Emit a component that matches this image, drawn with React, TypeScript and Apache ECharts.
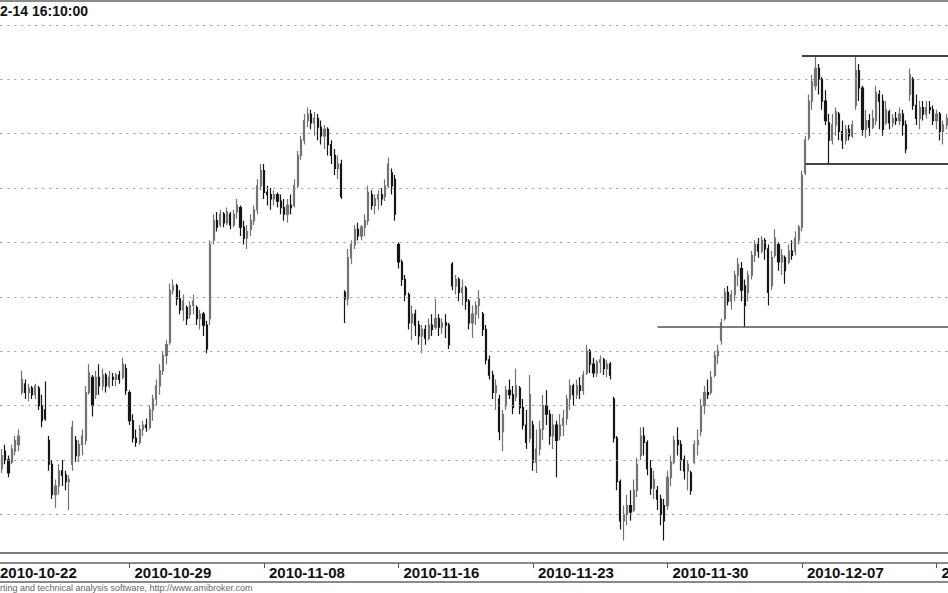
import React, { useEffect, useRef } from "react";
import * as echarts from "echarts";

// Trading days shown (hourly bars, 09:00 .. 16:00)
const days = [
  "2010-10-22", "2010-10-25", "2010-10-26", "2010-10-27", "2010-10-28",
  "2010-10-29", "2010-11-02", "2010-11-03", "2010-11-04", "2010-11-05",
  "2010-11-08", "2010-11-09", "2010-11-10", "2010-11-12", "2010-11-15",
  "2010-11-16", "2010-11-17", "2010-11-18", "2010-11-19", "2010-11-22",
  "2010-11-23", "2010-11-24", "2010-11-25", "2010-11-26", "2010-11-29",
  "2010-11-30", "2010-12-01", "2010-12-02", "2010-12-03", "2010-12-06",
  "2010-12-07", "2010-12-08", "2010-12-09", "2010-12-10", "2010-12-13",
  "2010-12-14",
];
const hours = ["09:00", "10:00", "11:00", "12:00", "13:00", "14:00", "15:00", "16:00"];

// [open, close, low, high]
const week1 = [
  [2580,2575,2573,2582],[2579,2573,2570,2580],[2571,2577,2569,2580],[2579,2575,2573,2582],[2575,2569,2567,2577],[2574,2580,2573,2582],[2579,2584,2577,2586],[2582,2586,2579,2589],
  [2606,2612,2605,2616],[2610,2606,2603,2612],[2606,2608,2602,2610],[2608,2605,2603,2609],[2605,2609,2603,2610],[2608,2600,2598,2609],[2600,2593,2590,2605],[2598,2594,2593,2611],
  [2584,2573,2570,2586],[2573,2559,2557,2575],[2559,2563,2553,2566],[2563,2570,2559,2573],[2570,2568,2563,2575],[2568,2565,2561,2570],[2565,2566,2552,2568],[2573,2590,2570,2593],
  [2584,2577,2574,2586],[2577,2582,2574,2584],[2582,2586,2577,2589],[2584,2606,2582,2609],[2606,2615,2605,2619],[2613,2600,2595,2614],[2605,2613,2603,2616],[2613,2609,2605,2619],
  [2609,2614,2607,2617],[2614,2609,2606,2615],[2609,2613,2608,2616],[2613,2612,2609,2615],[2612,2614,2609,2615],[2614,2612,2610,2616],[2613,2619,2612,2622],[2617,2607,2605,2619],
];
const week2 = [
  [2606,2593,2591,2607],[2593,2585,2583,2596],[2585,2583,2581,2589],[2583,2589,2582,2591],[2589,2591,2586,2593],[2591,2590,2588,2594],[2590,2598,2589,2600],[2598,2603,2593,2605],
  [2603,2609,2600,2612],[2609,2616,2605,2619],[2616,2623,2614,2625],[2623,2628,2619,2630],[2629,2653,2628,2656],[2653,2655,2651,2658],[2655,2649,2646,2656],[2649,2644,2642,2653],
  [2644,2648,2639,2651],[2645,2640,2637,2646],[2642,2646,2640,2648],[2646,2648,2642,2651],[2645,2640,2637,2646],[2640,2642,2635,2644],[2642,2637,2632,2643],[2637,2626,2624,2639],
  [2640,2674,2637,2676],[2676,2685,2674,2688],[2685,2682,2680,2689],[2683,2688,2682,2690],[2688,2684,2682,2689],[2684,2689,2683,2691],[2688,2683,2681,2689],[2683,2688,2682,2690],
  [2689,2692,2686,2695],[2691,2682,2678,2692],[2682,2677,2674,2685],[2677,2680,2672,2683],[2681,2685,2678,2688],[2685,2690,2683,2692],[2690,2701,2688,2704],[2701,2708,2699,2711],
];
const week3 = [
  [2708,2698,2695,2711],[2698,2697,2692,2701],[2697,2695,2690,2700],[2695,2697,2692,2699],[2697,2694,2691,2698],[2694,2691,2688,2697],[2691,2688,2685,2695],[2688,2692,2684,2695],
  [2692,2691,2688,2697],[2692,2701,2691,2704],[2701,2715,2700,2717],[2715,2722,2713,2724],[2722,2731,2720,2734],[2731,2734,2728,2737],[2734,2730,2727,2736],[2730,2732,2724,2735],
  [2732,2728,2722,2734],[2728,2724,2720,2731],[2724,2727,2718,2729],[2727,2720,2715,2728],[2720,2715,2711,2722],[2715,2709,2706,2718],[2709,2711,2704,2715],[2711,2696,2695,2713],
  [2652,2649,2638,2653],[2649,2668,2646,2672],[2668,2674,2665,2676],[2674,2681,2672,2683],[2681,2678,2676,2684],[2678,2682,2676,2683],[2682,2685,2678,2688],[2685,2698,2683,2701],
  [2697,2692,2690,2699],[2692,2695,2688,2697],[2695,2697,2690,2699],[2697,2695,2692,2700],[2696,2701,2694,2704],[2701,2711,2700,2714],[2707,2701,2697,2709],[2704,2688,2685,2706],
];
const week4 = [
  [2674,2666,2663,2675],[2666,2658,2655,2667],[2658,2651,2648,2660],[2651,2638,2635,2652],[2638,2642,2630,2646],[2642,2637,2632,2644],[2637,2632,2628,2639],[2632,2635,2624,2637],
  [2635,2631,2628,2637],[2631,2637,2630,2640],[2637,2635,2632,2642],[2636,2640,2635,2649],[2640,2636,2632,2642],[2636,2638,2633,2640],[2638,2637,2631,2642],[2637,2628,2626,2638],
  [2665,2655,2653,2666],[2655,2658,2651,2660],[2658,2652,2648,2659],[2652,2654,2646,2658],[2654,2648,2644,2655],[2648,2638,2635,2649],[2638,2642,2631,2646],[2642,2646,2637,2648],
  [2646,2649,2640,2653],[2642,2635,2632,2643],[2635,2621,2619,2637],[2621,2614,2612,2623],[2614,2606,2603,2616],[2606,2609,2598,2612],[2603,2588,2584,2605],[2588,2596,2579,2598],
  [2600,2607,2598,2609],[2607,2605,2603,2612],[2605,2599,2596,2609],[2604,2609,2602,2617],[2608,2599,2596,2609],[2599,2591,2589,2603],[2591,2583,2580,2598],[2585,2605,2583,2614],
];
const week5 = [
  [2591,2574,2570,2593],[2574,2580,2569,2589],[2580,2589,2577,2593],[2589,2600,2584,2605],[2600,2596,2591,2607],[2596,2586,2582,2598],[2586,2591,2580,2596],[2591,2584,2567,2593],
  [2586,2591,2584,2596],[2591,2594,2586,2598],[2594,2603,2591,2605],[2603,2609,2598,2612],[2609,2605,2600,2610],[2605,2609,2603,2612],[2609,2607,2603,2613],[2607,2614,2605,2616],
  [2615,2625,2614,2628],[2625,2619,2615,2626],[2619,2615,2613,2622],[2615,2620,2613,2621],[2620,2621,2615,2623],[2621,2617,2614,2622],[2617,2619,2613,2621],[2619,2614,2612,2620],
  [2603,2585,2583,2604],[2585,2565,2561,2586],[2565,2547,2543,2566],[2547,2550,2538,2554],[2550,2554,2545,2559],[2554,2551,2547,2561],[2552,2561,2551,2566],[2561,2573,2558,2576],
  [2577,2586,2575,2590],[2586,2583,2577,2590],[2583,2571,2568,2584],[2571,2562,2559,2575],[2562,2566,2557,2570],[2561,2557,2552,2563],[2557,2550,2545,2559],[2554,2547,2538,2557],
];
const week6 = [
  [2554,2567,2552,2570],[2567,2574,2563,2577],[2574,2584,2573,2586],[2584,2582,2577,2590],[2582,2575,2570,2584],[2575,2570,2566,2577],[2570,2573,2561,2575],[2569,2561,2559,2570],
  [2574,2582,2573,2584],[2582,2584,2577,2589],[2588,2600,2586,2603],[2600,2606,2596,2609],[2606,2605,2603,2612],[2606,2613,2605,2616],[2614,2623,2613,2625],[2623,2625,2619,2628],
  [2630,2638,2628,2640],[2640,2652,2639,2654],[2652,2648,2646,2655],[2648,2651,2644,2653],[2651,2660,2648,2662],[2660,2665,2655,2668],[2663,2653,2648,2666],[2655,2646,2636,2658],
  [2652,2660,2648,2662],[2660,2669,2658,2671],[2669,2674,2666,2676],[2674,2671,2668,2677],[2671,2676,2670,2678],[2676,2672,2667,2677],[2672,2652,2646,2674],[2655,2668,2653,2671],
  [2669,2677,2668,2681],[2674,2666,2662,2675],[2666,2669,2660,2672],[2668,2662,2656,2669],[2666,2671,2665,2674],[2671,2669,2667,2676],[2671,2677,2669,2680],[2676,2682,2674,2683],
];
const week7 = [
  [2682,2706,2680,2708],[2707,2722,2706,2724],[2723,2740,2722,2743],[2740,2749,2736,2752],[2747,2755,2745,2761],[2755,2750,2743,2757],[2750,2740,2736,2751],[2740,2731,2729,2745],
  [2730,2722,2711,2734],[2722,2729,2720,2734],[2729,2735,2724,2737],[2734,2726,2722,2735],[2726,2722,2718,2731],[2722,2727,2720,2729],[2727,2724,2722,2729],[2724,2729,2723,2731],
  [2738,2754,2736,2761],[2754,2746,2740,2757],[2746,2727,2724,2747],[2727,2731,2723,2736],[2731,2728,2724,2734],[2728,2732,2727,2736],[2731,2744,2729,2747],[2743,2740,2727,2745],
  [2740,2727,2724,2743],[2730,2736,2729,2740],[2735,2730,2727,2736],[2730,2732,2728,2734],[2732,2731,2729,2735],[2731,2734,2729,2737],[2734,2729,2724,2736],[2729,2718,2716,2731],
  [2743,2752,2740,2755],[2750,2738,2736,2751],[2738,2732,2729,2743],[2732,2737,2727,2740],[2737,2734,2731,2740],[2734,2737,2732,2740],[2737,2736,2734,2740],[2736,2731,2729,2738],
];
const week8 = [
  [2731,2734,2727,2736],[2734,2726,2722,2735],[2726,2729,2720,2731],[2729,2732,2727,2734],
];

// dotted horizontal grid levels
const gridLevels = [2550, 2575, 2600, 2625, 2650, 2675, 2700, 2725, 2750, 2775];

// drawn trend lines: [start bar index, end bar index, level]
const supportLine = [197, 287, 2636];
const boxTop = [240, 287, 2761];
const boxBottom = [241, 287, 2711];

const titleText = "2-14 16:10:00";
const footerText = "rting and technical analysis software, http://www.amibroker.com";

const FONT = "'Liberation Sans', Arial, Helvetica, sans-serif";

export default function App() {
  const ref = useRef<HTMLDivElement>(null);

  useEffect(() => {
    if (!ref.current) return;
    const chart = echarts.init(ref.current, undefined, { renderer: "svg" });

    const categories: string[] = [];
    days.forEach((d) => hours.forEach((h) => categories.push(d + " " + h)));
    const ohlc = [...week1, ...week2, ...week3, ...week4, ...week5, ...week6, ...week7, ...week8];

    const showEvery = (index: number) => index % 40 === 0;

    const trend = (t: number[], width: number, color: string) => [
      { coord: [categories[t[0]], t[2]], lineStyle: { type: "solid", width, color } },
      { coord: [categories[t[1]], t[2]] },
    ];

    const option: any = {
      animation: false,
      backgroundColor: "#ffffff",
      title: {
        text: titleText,
        left: 0,
        top: 4,
        padding: 0,
        textStyle: { fontSize: 14, fontWeight: "bold", color: "#111", fontFamily: FONT },
      },
      grid: {
        left: -6.68,
        right: -13.72,
        top: 1,
        bottom: 40,
        containLabel: false,
        outerBoundsMode: "none",
      },
      xAxis: {
        type: "category",
        data: categories,
        boundaryGap: true,
        offset: 10,
        axisLine: { show: true, lineStyle: { color: "#8a8a8a", width: 2 } },
        axisTick: {
          show: true,
          alignWithLabel: true,
          interval: showEvery,
          length: 5,
          lineStyle: { color: "#555", width: 1 },
        },
        axisLabel: {
          interval: showEvery,
          formatter: (v: string) => v.slice(0, 10),
          align: "left",
          margin: 2,
          padding: [0, 0, 0, 5],
          fontSize: 15,
          fontWeight: "bold",
          color: "#111",
          fontFamily: FONT,
          hideOverlap: false,
        },
        splitLine: { show: false },
      },
      yAxis: {
        type: "value",
        min: 2532.2,
        max: 2786.0,
        show: false,
        splitLine: { show: false },
      },
      series: [
        {
          type: "candlestick",
          data: ohlc,
          barWidth: 1.6,
          silent: true,
          itemStyle: {
            color: "#737373",
            color0: "#161616",
            borderColor: "#737373",
            borderColor0: "#161616",
            borderWidth: 1.2,
          },
          markLine: {
            silent: true,
            symbol: ["none", "none"],
            label: { show: false },
            emphasis: { disabled: true },
            data: [
              ...gridLevels.map((v) => ({
                yAxis: v,
                lineStyle: { type: [2, 5], color: "#9a9a9a", width: 1 },
              })),
              trend(supportLine, 1.5, "#555"),
              trend(boxTop, 2, "#444"),
              trend(boxBottom, 2, "#444"),
            ],
          },
        },
      ],
      graphic: [
        { type: "line", shape: { x1: 0, y1: 1, x2: 948, y2: 1 }, style: { stroke: "#8a8a8a", lineWidth: 2 } },
        { type: "line", shape: { x1: 0, y1: 553, x2: 948, y2: 553 }, style: { stroke: "#7a7a7a", lineWidth: 2 } },
        { type: "line", shape: { x1: 0, y1: 582, x2: 948, y2: 582 }, style: { stroke: "#8a8a8a", lineWidth: 2 } },
        {
          type: "text",
          left: 0,
          top: 583,
          style: { text: footerText, fontSize: 9, fill: "#666", fontFamily: FONT },
        },
      ],
    };

    chart.setOption(option);
    return () => chart.dispose();
  }, []);

  return (
    <div
      ref={ref}
      style={{ position: "fixed", left: 0, top: 0, width: 948, height: 593, background: "#fff" }}
    />
  );
}
